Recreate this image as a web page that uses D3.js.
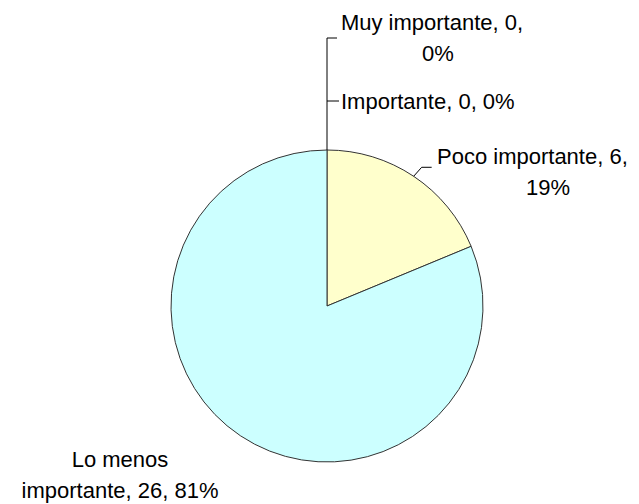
<!DOCTYPE html>
<html>
<head>
<meta charset="utf-8">
<script src="https://cdn.jsdelivr.net/npm/d3@7"></script>
<style>
  html, body { margin: 0; padding: 0; background: #fff; }
  svg { display: block; }
  text { font-family: Arial, "Liberation Sans", sans-serif; font-size: 22px; fill: #000; }
</style>
</head>
<body>
<svg id="chart" width="639" height="504"></svg>
<script>
// Data
const categories = ["Muy importante", "Importante", "Poco importante", "Lo menos importante"];
const values = [0, 0, 6, 26];
const percentLabels = ["0%", "0%", "19%", "81%"];
const colors = ["#9999FF", "#993366", "#FFFFCC", "#CCFFFF"];

// Label text lines (as in the original wrapping)
const labelLines = [
  ["Muy importante, 0,", "0%"],
  ["Importante, 0, 0%"],
  ["Poco importante, 6,", "19%"],
  ["Lo menos", "importante, 26, 81%"]
];

const svg = d3.select("#chart");
const cx = 327, cy = 306, R = 156;

const pie = d3.pie().sort(null).value(d => d)
  .startAngle(0).endAngle(2 * Math.PI);
const arcs = pie(values);
const arc = d3.arc().innerRadius(0).outerRadius(R);

const g = svg.append("g").attr("transform", `translate(${cx},${cy})`);

g.selectAll("path.slice")
  .data(arcs)
  .enter().append("path")
  .attr("class", "slice")
  .attr("d", arc)
  .attr("fill", (d, i) => colors[i])
  .attr("stroke", "#333")
  .attr("stroke-width", 1)
  .attr("stroke-linejoin", "round");

// Label layout: per-line x (with anchor) and first baseline
const layout = [
  { xs: [432, 438], anchors: ["middle", "middle"], y: 30,
    leader: a => [[0, -R], [0, -268], [10, -268]] },
  { xs: [341], anchors: ["start"], y: 109,
    leader: a => [[0, -205], [12, -205]] },
  { xs: [437, 548], anchors: ["start", "middle"], y: 164,
    leader: a => {
      const m = (a.startAngle + a.endAngle) / 2;
      const p = [R * Math.sin(m), -R * Math.cos(m)];
      return [p, [p[0] + 8, p[1] - 9], [p[0] + 18, p[1] - 9]];
    } },
  { xs: [120, 120], anchors: ["middle", "middle"], y: 467, leader: null }
];

const lineGen = d3.line();
arcs.forEach((a, i) => {
  const L = layout[i];
  if (L.leader) {
    g.append("path")
      .attr("d", lineGen(L.leader(a)))
      .attr("fill", "none")
      .attr("stroke", "#000")
      .attr("stroke-width", 1);
  }
  const t = svg.append("text").attr("y", L.y);
  labelLines[i].forEach((ln, j) => {
    t.append("tspan")
      .attr("x", L.xs[j])
      .attr("text-anchor", L.anchors[j])
      .attr("dy", j === 0 ? 0 : 31)
      .text(ln);
  });
});
</script>
</body>
</html>
